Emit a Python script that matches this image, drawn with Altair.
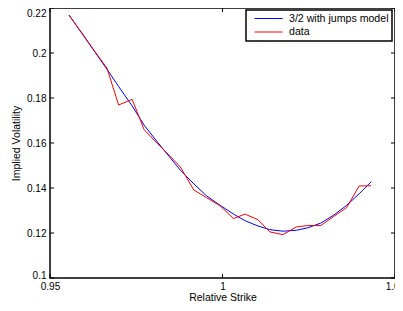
import altair as alt
import pandas as pd

# ---- data ----
strike = [0.9555, 0.9592, 0.9629, 0.9665, 0.9699, 0.9738, 0.9773, 0.9810, 0.9845,
          0.9878, 0.9917, 0.9954, 0.9993, 1.0032, 1.0065, 1.0103, 1.0137, 1.0175,
          1.0214, 1.0247, 1.0285, 1.0322, 1.0360, 1.0396, 1.0431]
model_vol = [0.2169, 0.2088, 0.2007, 0.1928, 0.1851, 0.1765, 0.1679, 0.1607, 0.1541,
             0.1479, 0.1418, 0.1365, 0.1323, 0.1284, 0.1255, 0.1231, 0.1215, 0.1208,
             0.1212, 0.1223, 0.1244, 0.1279, 0.1323, 0.1374, 0.1428]
data_vol = [0.2168, 0.2090, 0.2009, 0.1933, 0.1769, 0.1794, 0.1659, 0.1600, 0.1546,
            0.1493, 0.1391, 0.1357, 0.1321, 0.1264, 0.1284, 0.1259, 0.1205, 0.1193,
            0.1227, 0.1233, 0.1233, 0.1273, 0.1313, 0.1409, 0.1410]
series_names = ["3/2 with jumps model", "data"]
series_colors = ["#0000ff", "#ff0000"]
x_ticks = [0.95, 1.0, 1.05]
y_ticks = [0.10, 0.12, 0.14, 0.16, 0.18, 0.20, 0.22]

W, H = 345, 270
FONT = "Liberation Sans"

rows = []
for s, v in zip(strike, model_vol):
    rows.append({"x": s, "y": v, "series": series_names[0], "k": 0})
for s, v in zip(strike, data_vol):
    rows.append({"x": s, "y": v, "series": series_names[1], "k": 1})
df = pd.DataFrame(rows)

xscale = alt.Scale(domain=[0.95, 1.05], nice=False, zero=False)
yscale = alt.Scale(domain=[0.10, 0.22], nice=False, zero=False)
xaxis = alt.Axis(values=x_ticks, format=".2~f", title="Relative Strike",
                 ticks=False, domain=False, grid=False, labelPadding=3,
                 titlePadding=1, labelFlush=False, labelOverlap=False)
yaxis = alt.Axis(values=y_ticks, format=".2~f", title="Implied Volatility",
                 ticks=False, domain=False, grid=False, labelPadding=4,
                 titlePadding=5, labelFlush=False, labelOverlap=False,
                 labelBaseline={"condition": {"test": "datum.value > 0.215", "value": "top"},
                                "value": "middle"},
                 labelOffset={"condition": {"test": "datum.value < 0.105", "value": -2.5},
                              "value": 0})

lines = alt.Chart(df).mark_line(strokeWidth=1, clip=True).encode(
    x=alt.X("x:Q", scale=xscale, axis=xaxis),
    y=alt.Y("y:Q", scale=yscale, axis=yaxis),
    color=alt.Color("series:N",
                    scale=alt.Scale(domain=series_names, range=series_colors),
                    legend=alt.Legend(orient="none", legendX=196, legendY=2, title=None,
                                      direction="vertical",
                                      symbolType="M-2.8,0L2.8,0",
                                      symbolSize=100, symbolStrokeWidth=1,
                                      strokeColor="black", fillColor="white",
                                      padding=3, rowPadding=1.5, symbolOffset=14,
                                      labelOffset=15, labelFontSize=10.6, labelFont=FONT,
                                      labelColor="black")),
    order=alt.Order("x:Q"),
    detail="k:N",
)

ydf = pd.DataFrame({"y": y_ticks})
xdf = pd.DataFrame({"x": x_ticks})

ytl = alt.Chart(ydf).mark_rule(color="black", strokeWidth=1).encode(
    y=alt.Y("y:Q", scale=yscale, axis=yaxis), x=alt.value(0), x2=alt.value(4))
ytr = alt.Chart(ydf).mark_rule(color="black", strokeWidth=1).encode(
    y=alt.Y("y:Q", scale=yscale, axis=yaxis), x=alt.value(W - 4), x2=alt.value(W))
xtb = alt.Chart(xdf).mark_rule(color="black", strokeWidth=1).encode(
    x=alt.X("x:Q", scale=xscale, axis=xaxis), y=alt.value(H - 4), y2=alt.value(H))
xtt = alt.Chart(xdf).mark_rule(color="black", strokeWidth=1).encode(
    x=alt.X("x:Q", scale=xscale, axis=xaxis), y=alt.value(0), y2=alt.value(4))

chart = alt.layer(lines, ytl, ytr, xtb, xtt).properties(
    width=W, height=H,
    autosize=alt.AutoSizeParams(type="none"),
    padding={"left": 42, "top": 0, "right": 0, "bottom": 25},
).configure_view(stroke="black", strokeWidth=1.5).configure_axis(
    labelFont=FONT, labelFontSize=10, labelColor="black",
    titleFont=FONT, titleFontSize=10.5, titleFontWeight="normal", titleColor="black",
).configure_legend(strokeWidth=1.5)

chart.save("out.html", embed_options={"renderer": "svg", "actions": False})
